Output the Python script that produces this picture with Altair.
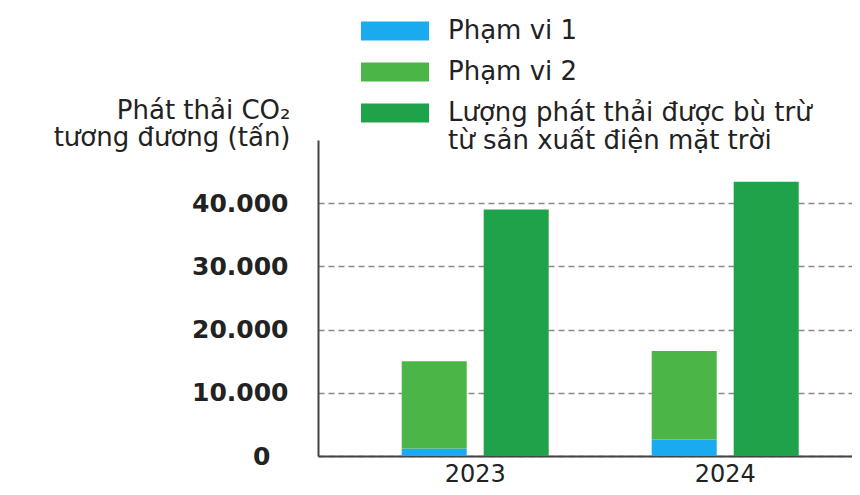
import altair as alt
import pandas as pd

years = ["2023", "2024"]
series = ["Phạm vi 1", "Phạm vi 2", "Lượng phát thải được bù trừ từ sản xuất điện mặt trời"]
colors = ["#1AABEE", "#4CB548", "#1EA24A"]
scope1 = [1200, 2600]
scope2 = [13800, 14000]
solar_offset = [39000, 43400]
y_ticks = [0, 10000, 20000, 30000, 40000]

rows = []
for i, yr in enumerate(years):
    rows.append({"year": yr, "group": "A", "series": series[0], "value": scope1[i], "ord": 0})
    rows.append({"year": yr, "group": "A", "series": series[1], "value": scope2[i], "ord": 1})
    rows.append({"year": yr, "group": "B", "series": series[2], "value": solar_offset[i], "ord": 2})
df = pd.DataFrame(rows)

label_expr = (
    "datum.label == '" + series[2] + "' ? "
    "['Lượng phát thải được bù trừ', 'từ sản xuất điện mặt trời'] : datum.label"
)

chart = alt.Chart(df).mark_bar().encode(
    x=alt.X(
        "year:N",
        scale=alt.Scale(paddingInner=0.412, paddingOuter=0.274, align=0.611),
        axis=alt.Axis(
            title=None, labelAngle=0, ticks=False, labelFontSize=24, labelPadding=6,
            labelColor="#222222", domainColor="#444444", domainWidth=2, grid=False,
        ),
    ),
    xOffset=alt.XOffset("group:N", scale=alt.Scale(paddingInner=0.207, paddingOuter=0)),
    y=alt.Y(
        "value:Q",
        stack="zero",
        scale=alt.Scale(domain=[0, 50000], nice=False),
        axis=alt.Axis(
            values=y_ticks,
            labelExpr="replace(format(datum.value, ','), ',', '.')",
            ticks=False, labelFontSize=25, labelFontWeight="bold",
            labelPadding={"condition": {"test": "datum.value === 0", "value": 48}, "value": 30},
            labelColor="#222222", domainColor="#444444", domainWidth=2,
            grid=True, gridDash=[6, 4], gridColor="#888888", gridWidth=1.5,
            title=["Phát thải CO₂", "tương đương (tấn)"],
            titleAngle=0, titleAlign="right", titleBaseline="alphabetic",
            titleX=-28, titleY=-22, titleFontSize=26, titleFontWeight="normal",
            titleLineHeight=27, titleColor="#222222",
        ),
    ),
    color=alt.Color(
        "series:N",
        scale=alt.Scale(domain=series, range=colors),
        legend=alt.Legend(
            title=None, orient="none", legendX=64, legendY=-122,
            symbolType="M-3.58,-1H3.58V1H-3.58Z", symbolSize=361, symbolStrokeWidth=0,
            labelOffset=40, labelFontSize=26, labelLimit=800, labelColor="#222222",
            rowPadding=15, padding=0, labelExpr=label_expr,
        ),
    ),
    order=alt.Order("ord:Q"),
).properties(
    width=534, height=316, autosize="none",
    padding={"left": 310, "top": 132, "right": 0, "bottom": 31},
).configure(font="DejaVu Sans").configure_view(strokeWidth=0)

chart.save("out.html", embed_options={"renderer": "svg", "actions": False})
